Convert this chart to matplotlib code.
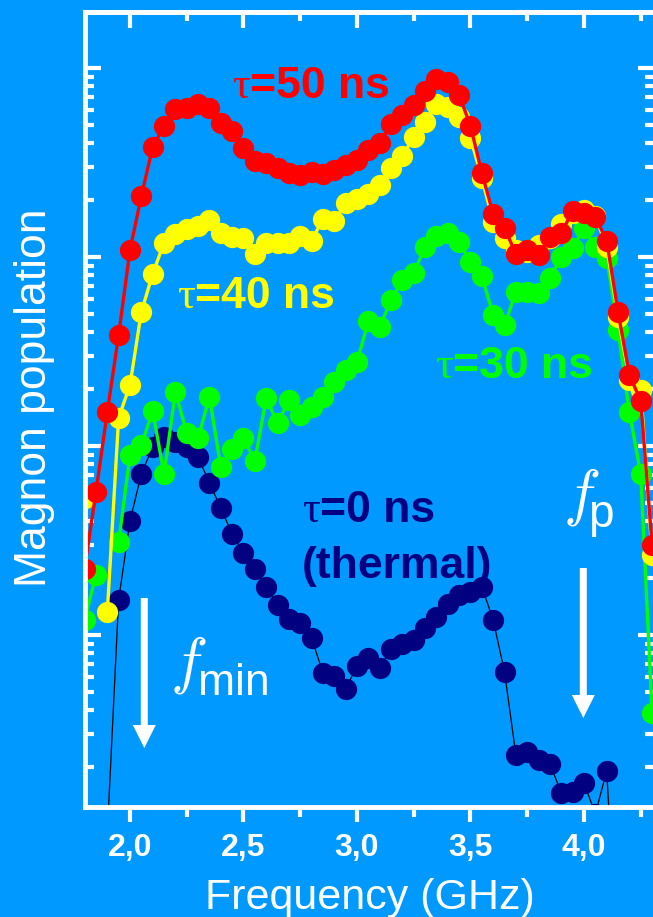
import numpy as np
import matplotlib
matplotlib.use('Agg')
import matplotlib.pyplot as plt
from matplotlib.patches import Polygon
from matplotlib.ticker import FixedLocator, LogLocator, NullFormatter

plt.rcParams['mathtext.fontset'] = 'cm'

W, H, DPI = 653, 917, 100
BG = '#0099FF'
nan = np.nan

# ---------------- data ----------------
freq = [1.80, 1.85, 1.90, 1.95, 2.00, 2.05, 2.10, 2.15, 2.20, 2.25,
        2.30, 2.35, 2.40, 2.45, 2.50, 2.55, 2.60, 2.65, 2.70, 2.75,
        2.80, 2.85, 2.90, 2.95, 3.00, 3.05, 3.10, 3.15, 3.20, 3.25,
        3.30, 3.35, 3.40, 3.45, 3.50, 3.55, 3.60, 3.65, 3.70, 3.75,
        3.80, 3.85, 3.90, 3.95, 4.00, 4.05, 4.10, 4.15, 4.20, 4.25, 4.30]

tau50 = [2.24, 5.71, 15.1, 38.7, 109, 210, 382, 493, 607, 614,
         645, 614, 512, 464, 377, 322, 314, 296, 278, 272,
         282, 275, 289, 307, 326, 368, 401, 505, 564, 637,
         755, 875, 843, 719, 493, 278, 169, 142, 104, 109,
         103, 128, 134, 175, 171, 163, 122, 51.2, 23.8, 17.3, 2.99]

tau40 = [5.31, nan, 1.32, 14.1, 21.0, 51.2, 81.3, 119, 132, 141,
         146, 157, 134, 128, 126, 104, 119, 119, 119, 129,
         122, 159, 155, 193, 203, 215, 240, 296, 342, 431,
         518, 645, 622, 550, 426, 262, 153, 126, 109, 106,
         116, 126, 150, 171, 177, 165, 113, 48.2, 22.4, 19.8, 2.65]

tau30 = [1.20, 2.08, nan, 3.10, 8.96, 10.1, 15.3, 7.11, 19.3, 11.7,
         11.0, 18.2, 7.74, 9.64, 11.0, 8.33, 17.9, 13.2, 17.5, 14.6,
         16.1, 18.2, 21.8, 25.2, 27.8, 45.9, 42.6, 59.2, 75.5, 82.3,
         113, 129, 134, 120, 94.1, 79.3, 49.3, 43.7, 65.3, 65.3,
         64.5, 77.4, 100, 112, 142, 113, 98.8, 41.1, 15.1, 7.11, 0.387]

tau0 = [nan, nan, 0.0885, 1.53, 4.01, 7.11, 9.88, 11.2, 10.5, 9.88,
        8.75, 6.37, 4.70, 3.42, 2.72, 2.24, 1.80, 1.44, 1.22, 1.16,
        0.964, 0.630, 0.607, 0.518, 0.685, 0.756, 0.669, 0.843, 0.896, 0.941,
        1.09, 1.25, 1.46, 1.63, 1.69, 1.80, 1.20, 0.637, 0.232, 0.240,
        0.218, 0.208, 0.146, 0.148, 0.165, 0.113, 0.191, 0.0169, nan, nan, nan]

xticks = [2.0, 2.5, 3.0, 3.5, 4.0]
xticklabels = ['2,0', '2,5', '3,0', '3,5', '4,0']
xminor = [2.25, 2.75, 3.25, 3.75, 4.25]

# ---------------- figure ----------------
fig = plt.figure(figsize=(W / DPI, H / DPI), dpi=DPI, facecolor=BG)
L, R, T, B = 85, 654, 12, 807
ax = fig.add_axes([L / W, 1 - B / H, (R - L) / W, (B - T) / H])
ax.set_facecolor(BG)
ax.set_yscale('log')
ax.set_xlim(1.8018, 4.3084)
ax.set_ylim(0.123, 1978)

ms = 15.3
ax.plot(freq, tau0, color='black', lw=0.9, marker='o', ms=ms, mfc='#000080',
        mec='#000080', mew=0, zorder=2)
ax.plot(freq, tau30, color='#00FF00', lw=2.4, marker='o', ms=ms, mew=0, zorder=3)
ax.plot(freq, tau40, color='#FFFF00', lw=2.4, marker='o', ms=ms, mew=0, zorder=4)
ax.plot(freq, tau50, color='#FF0000', lw=2.4, marker='o', ms=ms, mew=0, zorder=5)

for s in ax.spines.values():
    s.set_color('white')
    s.set_linewidth(3.5)
    s.set_zorder(10)

# x axis (bottom, outward)
ax.set_xticks(xticks)
ax.set_xticklabels(xticklabels)
ax.xaxis.set_minor_locator(FixedLocator(xminor))
ax.tick_params(axis='x', which='both', direction='out', colors='white',
               width=3, top=False, bottom=True)
ax.tick_params(axis='x', which='major', length=11, pad=7.5)
ax.tick_params(axis='x', which='minor', length=7)
for lab in ax.get_xticklabels():
    lab.set_fontfamily('Liberation Sans')
    lab.set_fontweight('bold')
    lab.set_fontsize(23)
    lab.set_color('white')

# top ticks (inward)
sec = ax.secondary_xaxis('top')
sec.set_xticks(xticks)
sec.xaxis.set_minor_locator(FixedLocator(xminor))
sec.tick_params(axis='x', which='both', direction='in', colors='white',
                width=3, labeltop=False)
sec.tick_params(which='major', length=11.5)
sec.tick_params(which='minor', length=6.5)
sec.spines['top'].set_color('white')
sec.spines['top'].set_linewidth(3.5)

# y axis (log, inward, both sides)
ax.yaxis.set_major_locator(LogLocator(base=10, numticks=20))
ax.yaxis.set_minor_locator(LogLocator(base=10, subs=np.arange(2, 10), numticks=20))
ax.yaxis.set_major_formatter(NullFormatter())
ax.yaxis.set_minor_formatter(NullFormatter())
ax.tick_params(axis='y', which='both', direction='in', colors='white', width=3,
               left=True, right=True, labelleft=False)
ax.tick_params(axis='y', which='major', length=11.5)
ax.tick_params(axis='y', which='minor', length=6.5)


def fx(x):
    return x / W


def fy(y):
    return 1 - y / H


# axis titles
fig.text(fx(369.5), fy(909), 'Frequency (GHz)', ha='center', va='baseline',
         fontsize=31, color='white', family='Liberation Sans')
fig.text(fx(35), fy(398), 'Magnon population', rotation=90, ha='center',
         va='center', fontsize=32, color='white', family='Liberation Sans')

# curve annotations
labels = [
    ('=50 ns', 250, 98, '#FF0000'),
    ('=40 ns', 195, 308, '#FFFF00'),
    ('=30 ns', 453, 378, '#00FF00'),
    ('=0 ns', 320, 522, '#000080'),
]
for txt, x0, yb, col in labels:
    fig.text(fx(x0), fy(yb), 'τ', ha='right', va='baseline', fontsize=32,
             color=col, family='Liberation Serif')
    fig.text(fx(x0), fy(yb), txt, ha='left', va='baseline', fontsize=32,
             color=col, family='Liberation Sans', fontweight='bold')
fig.text(fx(302), fy(578), '(thermal)', ha='left', va='baseline', fontsize=32,
         color='#000080', family='Liberation Sans', fontweight='bold')

# f_min and f_p
fig.text(fx(188), fy(665), r'$f$', ha='center', va='center', fontsize=45, color='white')
fig.text(fx(198), fy(695), 'min', ha='left', va='baseline', fontsize=32,
         color='white', family='Liberation Sans')
fig.text(fx(581), fy(498), r'$f$', ha='center', va='center', fontsize=45, color='white')
fig.text(fx(588), fy(527), 'p', ha='left', va='baseline', fontsize=33,
         color='white', family='Liberation Sans')


def arrow(xc, ytop, ybase, ytip, sw=3.5, hw=11.5):
    pts = [(xc - sw, ytop), (xc + sw, ytop), (xc + sw, ybase), (xc + hw, ybase),
           (xc, ytip), (xc - hw, ybase), (xc - sw, ybase)]
    fig.add_artist(Polygon([(fx(a), fy(b)) for a, b in pts], closed=True,
                           transform=fig.transFigure, facecolor='white',
                           edgecolor='none', zorder=20))


arrow(144.3, 598, 725, 748)
arrow(583.3, 568, 695, 718)

fig.savefig('out.png', dpi=DPI, facecolor=BG)
